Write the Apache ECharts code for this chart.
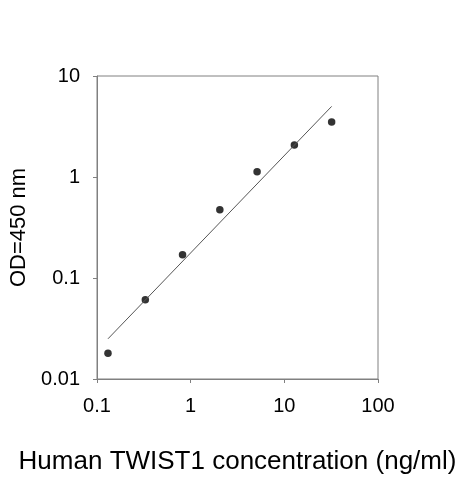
<!DOCTYPE html>
<html lang="en">
<head>
<meta charset="utf-8">
<title>TWIST1 standard curve</title>
<script src="https://cdn.jsdelivr.net/npm/echarts@6/dist/echarts.min.js"></script>
<style>
  html, body { margin: 0; padding: 0; background: #fff; }
  #chart { width: 463px; height: 480px; }
</style>
</head>
<body>
<div id="chart"></div>
<script>
// standard concentrations (ng/ml) and measured OD
var conc = [0.131, 0.328, 0.819, 2.048, 5.12, 12.8, 32];
var od = [0.018, 0.061, 0.17, 0.475, 1.13, 2.07, 3.5];
// fitted line end points
var fitX = [0.131, 32];
var fitY = [0.025, 5.0];

var points = conc.map(function (c, i) { return [c, od[i]]; });
var fit = fitX.map(function (x, i) { return [x, fitY[i]]; });

function fmt(v) {
  return String(parseFloat(v.toPrecision(3)));
}

var chart = echarts.init(document.getElementById('chart'));
chart.setOption({
  animation: false,
  textStyle: { fontFamily: 'Liberation Sans, Arial, sans-serif' },
  grid: {
    left: 96, right: 85, top: 76, bottom: 99,
    show: true, borderColor: '#808080', borderWidth: 1
  },
  xAxis: {
    type: 'log', logBase: 10, min: 0.1, max: 100,
    name: 'Human TWIST1 concentration (ng/ml)',
    nameLocation: 'middle', nameGap: 70,
    nameTextStyle: { fontSize: 26, color: '#000' },
    axisLine: { lineStyle: { color: '#808080' } },
    axisTick: { length: 4, lineStyle: { color: '#808080' } },
    minorTick: { show: false },
    splitLine: { show: false },
    axisLabel: { fontSize: 20, color: '#000', margin: 17, formatter: fmt }
  },
  yAxis: {
    type: 'log', logBase: 10, min: 0.01, max: 10,
    name: 'OD=450 nm',
    nameLocation: 'middle', nameGap: 67, nameRotate: 90,
    nameTextStyle: { fontSize: 22, color: '#000' },
    axisLine: { show: true, lineStyle: { color: '#808080' } },
    axisTick: { show: true, length: 4, lineStyle: { color: '#808080' } },
    splitLine: { show: false },
    axisLabel: { fontSize: 20, color: '#000', margin: 17, formatter: fmt }
  },
  series: [
    {
      type: 'line', data: fit, symbol: 'none',
      lineStyle: { color: '#555', width: 1 }
    },
    {
      type: 'scatter', data: points, symbol: 'circle', symbolSize: 7.5,
      itemStyle: { color: '#000' }
    }
  ]
});
</script>
</body>
</html>
